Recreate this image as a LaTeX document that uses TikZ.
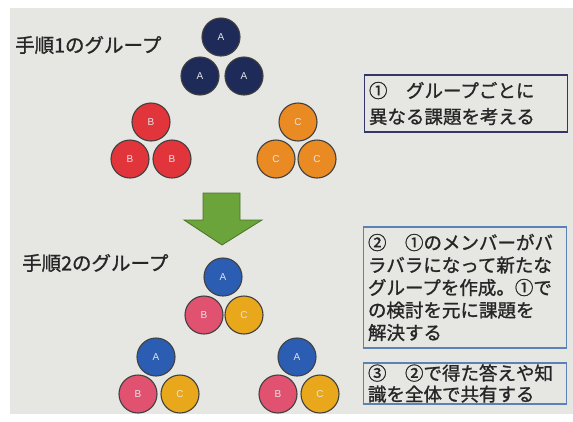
\documentclass[tikz,border=0pt]{standalone}
\usepackage{fontspec}
\setmainfont{Noto Sans CJK JP}[BoldFont={Noto Sans CJK JP},BoldFeatures={FakeBold=1.2}]
\newfontfamily\latinsf{Liberation Sans}
\definecolor{slidebg}{HTML}{E6E6E3}
\definecolor{navyA}{HTML}{1E2A58}
\definecolor{redB}{HTML}{E2353B}
\definecolor{orangeC}{HTML}{E98A22}
\definecolor{blueA}{HTML}{2B5DB3}
\definecolor{pinkB}{HTML}{E0526F}
\definecolor{yellowC}{HTML}{E9A71C}
\definecolor{arrowgreen}{HTML}{6BA43A}
\definecolor{boxnavy}{HTML}{34366A}
\definecolor{boxblue}{HTML}{5C82B5}
\begin{document}
\begin{tikzpicture}[x=1pt,y=-1pt,
  mem/.style={circle,draw=black!75,line width=1.1pt,minimum size=38pt,inner sep=0pt,
    text=white!90!black,font=\latinsf\fontsize{10}{10}\selectfont},
  heading/.style={anchor=west,inner sep=0pt,font=\bfseries\fontsize{19.5}{22}\selectfont,text=black!85},
  taskbox/.style={draw,line width=1.3pt,rectangle,inner sep=0pt,align=left,
    text width=194pt,minimum width=203pt,text=black!85},
]
\fill[white] (0,0) rectangle (573,421);
\fill[slidebg] (10,8) rectangle (573,414);
\useasboundingbox (0,0) rectangle (573,421);

% headings
\node[heading] (h1) at (15,45) {手順1のグループ};
\node[heading] (h2) at (22,263) {手順2のグループ};

% step 1 groups
\node[mem,fill=navyA] (a1) at (221,37) {A};
\node[mem,fill=navyA] (a2) at (200,76) {A};
\node[mem,fill=navyA] (a3) at (244,76) {A};
\node[mem,fill=redB] (b1) at (151,122) {B};
\node[mem,fill=redB] (b2) at (130,159) {B};
\node[mem,fill=redB] (b3) at (172,159) {B};
\node[mem,fill=orangeC] (c1) at (298,122) {C};
\node[mem,fill=orangeC] (c2) at (276,159) {C};
\node[mem,fill=orangeC] (c3) at (317,159) {C};

% green arrow
\filldraw[fill=arrowgreen,draw=arrowgreen!70!black,line width=0.8pt,line join=miter]
  (203,193) -- (240,193) -- (240,220) -- (262,220) -- (222,245) -- (184,220) -- (203,220) -- cycle;

% step 2 groups
\node[mem,fill=blueA] (d1) at (223,277) {A};
\node[mem,fill=pinkB] (d2) at (204,315) {B};
\node[mem,fill=yellowC] (d3) at (244,315) {C};
\node[mem,fill=blueA] (e1) at (156,357) {A};
\node[mem,fill=pinkB] (e2) at (138,394) {B};
\node[mem,fill=yellowC] (e3) at (180,394) {C};
\node[mem,fill=blueA] (f1) at (297,357) {A};
\node[mem,fill=pinkB] (f2) at (278,394) {B};
\node[mem,fill=yellowC] (f3) at (320,394) {C};

% task boxes
\node[taskbox,draw=boxnavy,minimum height=57pt,font=\bfseries\fontsize{18.5}{26}\selectfont]
  (t1) at (466,103.5) {①　グループごとに\\異なる課題を考える};
\node[taskbox,draw=boxblue,minimum height=121pt,font=\bfseries\fontsize{18.5}{22.5}\selectfont]
  (t2) at (465,287.5) {②　①のメンバーがバ\\ラバラになって新たな\\グループを作成。①で\\の検討を元に課題を\\解決する};
\node[taskbox,draw=boxblue,minimum height=41pt,font=\bfseries\fontsize{18.5}{21}\selectfont]
  (t3) at (465,383.5) {③　②で得た答えや知\\識を全体で共有する};
\end{tikzpicture}
\end{document}
